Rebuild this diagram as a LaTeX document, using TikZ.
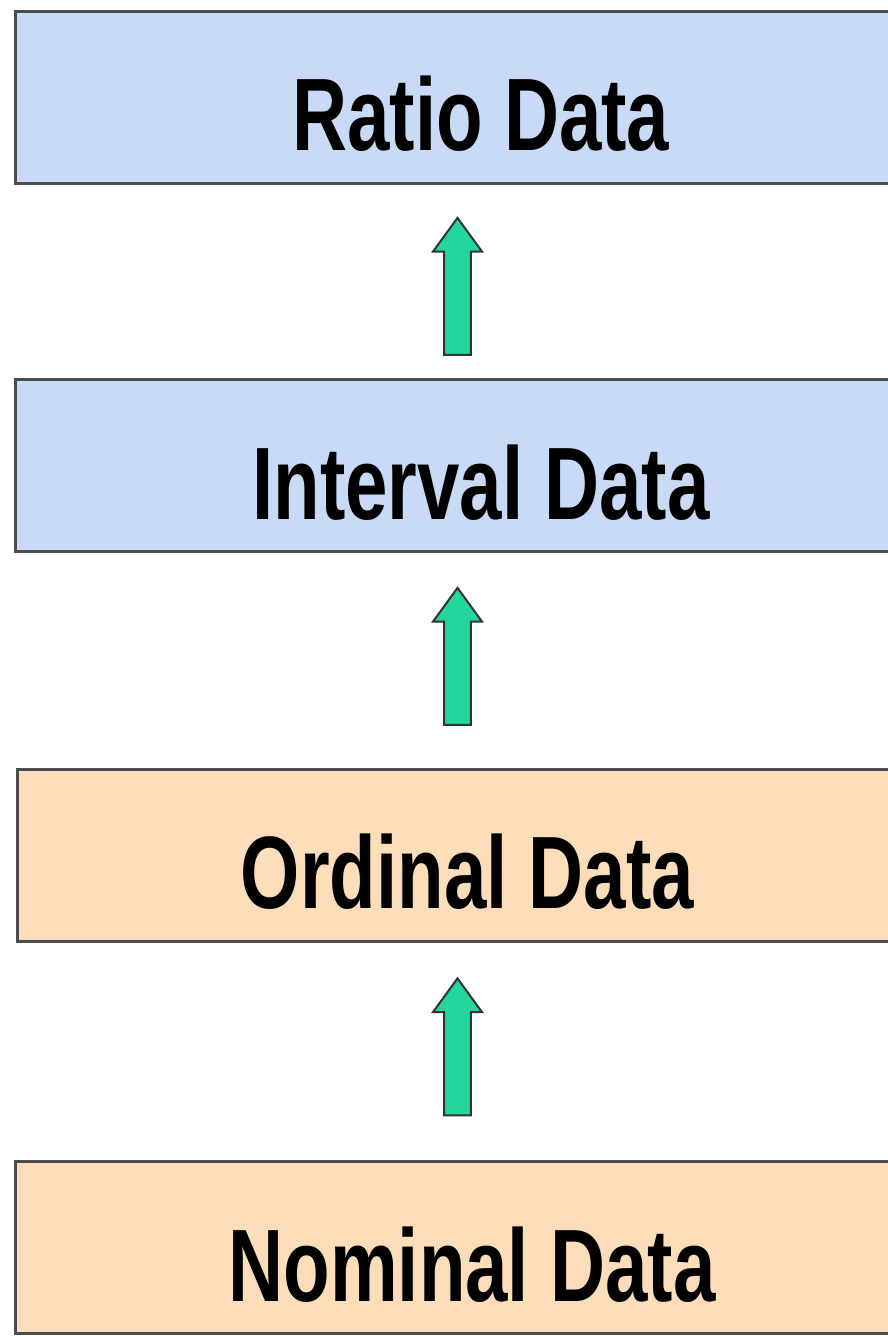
\documentclass[tikz,border=0pt]{standalone}
\usepackage{fontspec}
\setmainfont{Liberation Sans}
\usetikzlibrary{shapes.arrows}

\definecolor{boxblue}{RGB}{201,218,246}
\definecolor{boxorange}{RGB}{252,221,185}
\definecolor{boxline}{RGB}{74,76,80}
\definecolor{arrowgreen}{RGB}{34,214,158}
\newcommand{\leveltext}[1]{\scalebox{0.74}[1]{#1}}

\begin{document}
\begin{tikzpicture}[x=1pt,y=-1pt]

\tikzset{level/.style = {draw=boxline, line width=3pt, minimum height=172pt, text height=107pt, text depth=0pt, inner sep=0pt, font=\fontsize{103}{110}\selectfont\bfseries}}
\tikzset{upper/.style = {level, fill=boxblue}}
\tikzset{lower/.style = {level, fill=boxorange}}
\tikzset{uparrow/.style = {single arrow, draw=black!80, fill=arrowgreen, line width=2pt, shape border rotate=90, minimum height=137pt, minimum width=49pt, single arrow head extend=11pt, single arrow tip angle=72, inner sep=12pt}}
\useasboundingbox (0,0) rectangle (887,1336);
%levels
\node[upper, minimum width=931pt] (ratio) at (481,97) {\leveltext{Ratio Data}};
\node[upper, minimum width=931pt] (interval) at (481,465.5) {\leveltext{Interval Data}};
\node[lower, minimum width=900pt] (ordinal) at (467.5,855) {\leveltext{Ordinal Data}};
\node[lower, minimum width=913pt] (nominal) at (472,1247.5) {\leveltext{Nominal Data}};
%arrows
\node[uparrow] (up1) at (457.5,295.5) {};
\node[uparrow] (up2) at (457.5,665.5) {};
\node[uparrow] (up3) at (457.5,1056) {};
\end{tikzpicture}
\end{document}
